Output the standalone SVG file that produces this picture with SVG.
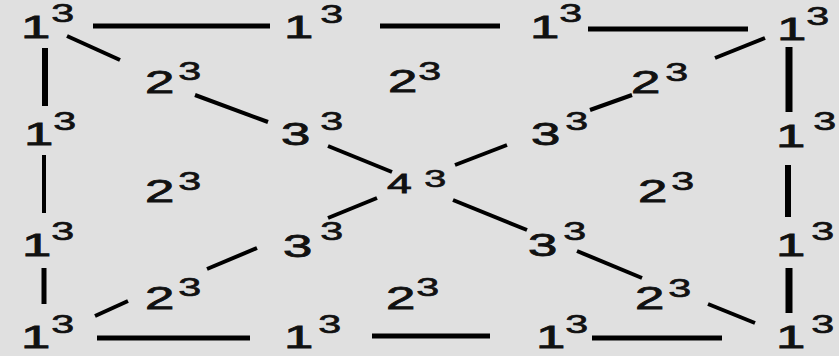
<svg xmlns="http://www.w3.org/2000/svg" width="839" height="356" viewBox="0 0 839 356">
<style>
.m{font-family:"Liberation Sans",Arial,sans-serif;font-size:32px;fill:#111;stroke:#111;stroke-width:0.8}
.s{font-size:25px;stroke-width:0.6}
.c line{stroke:#000;stroke-linecap:butt}
.h{stroke-width:5}
.d{stroke-width:4}
</style>
<rect width="839" height="356" fill="#e0e0e0"/>
<g class="c" id="connectors">
<line class="h" x1="93" y1="26" x2="270" y2="26"/>
<line class="h" x1="380" y1="26" x2="500" y2="26"/>
<line class="h" x1="588" y1="29" x2="748" y2="29"/>
<line class="h" x1="97" y1="338" x2="250" y2="338"/>
<line class="h" x1="372" y1="336" x2="490" y2="336"/>
<line class="h" x1="592" y1="338" x2="722" y2="338"/>
<line stroke-width="6" x1="45" y1="48" x2="45" y2="106"/>
<line stroke-width="4" x1="44" y1="155" x2="44" y2="213"/>
<line stroke-width="5" x1="44" y1="268" x2="44" y2="304"/>
<line stroke-width="7" x1="789" y1="47" x2="789" y2="112"/>
<line stroke-width="6" x1="788" y1="165" x2="788" y2="217"/>
<line stroke-width="7" x1="789" y1="268" x2="789" y2="313"/>
<line class="d" x1="67" y1="36" x2="120" y2="60"/>
<line class="d" x1="195" y1="95" x2="268" y2="122"/>
<line class="d" x1="328" y1="146" x2="392" y2="172"/>
<line class="d" x1="455" y1="165" x2="507" y2="145"/>
<line class="d" x1="590" y1="110" x2="632" y2="95"/>
<line class="d" x1="715" y1="58" x2="765" y2="38"/>
<line class="d" x1="377" y1="198" x2="328" y2="218"/>
<line class="d" x1="257" y1="248" x2="207" y2="269"/>
<line class="d" x1="128" y1="301" x2="95" y2="316"/>
<line class="d" x1="453" y1="200" x2="527" y2="230"/>
<line class="d" x1="577" y1="251" x2="642" y2="278"/>
<line class="d" x1="708" y1="304" x2="755" y2="323"/>
</g>
<g id="n1"><text class="m" transform="translate(21 38) scale(1.65 1)">1<tspan class="s" dx="0.6" dy="-16">3</tspan></text></g>
<g id="n2"><text class="m" transform="translate(284 38) scale(1.65 1)">1<tspan class="s" dx="4.2" dy="-15">3</tspan></text></g>
<g id="n3"><text class="m" transform="translate(530 38) scale(1.65 1)">1<tspan class="s" dx="0" dy="-16">3</tspan></text></g>
<g id="n4"><text class="m" transform="translate(777 40) scale(1.65 1)">1<tspan class="s" dx="0" dy="-15">3</tspan></text></g>
<g id="n5"><text class="m" transform="translate(24 145) scale(1.65 1)">1<tspan class="s" dx="0" dy="-15">3</tspan></text></g>
<g id="n6"><text class="m" transform="translate(22 256) scale(1.65 1)">1<tspan class="s" dx="0" dy="-16">3</tspan></text></g>
<g id="n7"><text class="m" transform="translate(21 348) scale(1.65 1)">1<tspan class="s" dx="0.6" dy="-15">3</tspan></text></g>
<g id="n8"><text class="m" transform="translate(284 348) scale(1.65 1)">1<tspan class="s" dx="3" dy="-15">3</tspan></text></g>
<g id="n9"><text class="m" transform="translate(536 348) scale(1.65 1)">1<tspan class="s" dx="0" dy="-15">3</tspan></text></g>
<g id="n10"><text class="m" transform="translate(776 348) scale(1.65 1)">1<tspan class="s" dx="3.6" dy="-15">3</tspan></text></g>
<g id="n11"><text class="m" transform="translate(776 147) scale(1.65 1)">1<tspan class="s" dx="4.8" dy="-17">3</tspan></text></g>
<g id="n12"><text class="m" transform="translate(776 256) scale(1.65 1)">1<tspan class="s" dx="3.6" dy="-16">3</tspan></text></g>
<g id="n13"><text class="m" transform="translate(145 93) scale(1.65 1)">2<tspan class="s" dx="2.4" dy="-13">3</tspan></text></g>
<g id="n14"><text class="m" transform="translate(388 92) scale(1.65 1)">2<tspan class="s" dx="0.6" dy="-12">3</tspan></text></g>
<g id="n15"><text class="m" transform="translate(631 93) scale(1.65 1)">2<tspan class="s" dx="3" dy="-12">3</tspan></text></g>
<g id="n16"><text class="m" transform="translate(145 202) scale(1.65 1)">2<tspan class="s" dx="2.4" dy="-12">3</tspan></text></g>
<g id="n17"><text class="m" transform="translate(638 202) scale(1.65 1)">2<tspan class="s" dx="2.4" dy="-12">3</tspan></text></g>
<g id="n18"><text class="m" transform="translate(145 309) scale(1.65 1)">2<tspan class="s" dx="2.4" dy="-13">3</tspan></text></g>
<g id="n19"><text class="m" transform="translate(386 309) scale(1.65 1)">2<tspan class="s" dx="0.6" dy="-13">3</tspan></text></g>
<g id="n20"><text class="m" transform="translate(635 309) scale(1.65 1)">2<tspan class="s" dx="2.4" dy="-12">3</tspan></text></g>
<g id="n21"><text class="m" transform="translate(281 145) scale(1.65 1)">3<tspan class="s" dx="6" dy="-15">3</tspan></text></g>
<g id="n22"><text class="m" transform="translate(531 145) scale(1.65 1)">3<tspan class="s" dx="3" dy="-15">3</tspan></text></g>
<g id="n23"><text class="m" transform="translate(283 257) scale(1.65 1)">3<tspan class="s" dx="4.8" dy="-17">3</tspan></text></g>
<g id="n24"><text class="m" transform="translate(528 256) scale(1.65 1)">3<tspan class="s" dx="3.6" dy="-16">3</tspan></text></g>
<g id="n25"><text class="m" style="font-size:27px" transform="translate(387 193) scale(1.65 1)">4<tspan style="font-size:24px;stroke-width:0.6" dx="7.5" dy="-6">3</tspan></text></g>
</svg>
